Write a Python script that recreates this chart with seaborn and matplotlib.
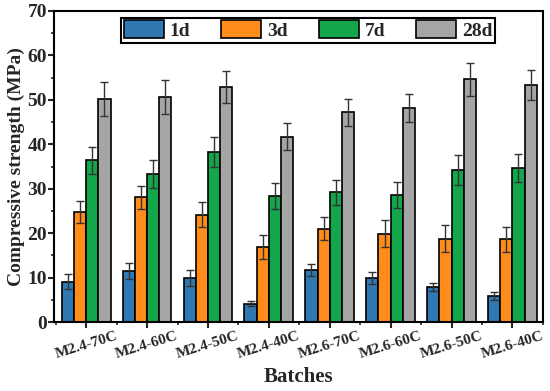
import pandas as pd
import numpy as np
import matplotlib
matplotlib.use("Agg")
import matplotlib.pyplot as plt
import seaborn as sns
from matplotlib.ticker import MultipleLocator, FixedLocator

batches = ['M2.4-70C', 'M2.4-60C', 'M2.4-50C', 'M2.4-40C',
           'M2.6-70C', 'M2.6-60C', 'M2.6-50C', 'M2.6-40C']
ages = ['1d', '3d', '7d', '28d']

s_1d = [9.1, 11.5, 9.9, 4.2, 11.7, 9.9, 7.9, 5.9]
s_3d = [24.8, 28.1, 24.2, 16.9, 21.0, 19.9, 18.8, 18.6]
s_7d = [36.4, 33.3, 38.3, 28.4, 29.2, 28.6, 34.2, 34.7]
s_28d = [50.2, 50.6, 52.8, 41.7, 47.2, 48.2, 54.6, 53.3]

e_1d = [1.7, 1.7, 1.8, 0.5, 1.3, 1.3, 0.9, 0.8]
e_3d = [2.5, 2.6, 2.9, 2.8, 2.6, 3.0, 3.1, 2.8]
e_7d = [3.1, 3.2, 3.3, 2.9, 2.8, 2.9, 3.4, 3.2]
e_28d = [3.9, 3.8, 3.6, 3.0, 3.0, 3.1, 3.8, 3.4]

colors = ['#2F78B2', '#FF8C1A', '#13A64B', '#A5A5A5']

df = pd.DataFrame({
    'Batch': batches * 4,
    'Age': [a for a in ages for _ in batches],
    'Strength': s_1d + s_3d + s_7d + s_28d,
    'Err': e_1d + e_3d + e_7d + e_28d,
})

sns.set_style('ticks')
plt.rcParams['font.family'] = ['Liberation Serif', 'DejaVu Serif']
plt.rcParams['font.weight'] = 'bold'

fig = plt.figure(figsize=(5.5, 3.91), dpi=100)
ax = fig.add_axes([0.098, 0.176, 0.889, 0.796])

sns.barplot(data=df, x='Batch', y='Strength', hue='Age', order=batches,
            hue_order=ages, palette=colors, errorbar=None, width=0.8,
            edgecolor='black', linewidth=1.2, saturation=1, ax=ax)

# error bars at the centres of the drawn bars
for cont, age in zip(ax.containers, ages):
    sub = df[df['Age'] == age].set_index('Batch').loc[batches]
    xs = [p.get_x() + p.get_width() / 2 for p in cont.patches]
    ax.errorbar(xs, sub['Strength'], yerr=sub['Err'], fmt='none',
                ecolor='#333333', elinewidth=1.0, capsize=3, capthick=1.0)

ax.set_ylim(0, 70)
ax.set_xlim(-0.53, 7.5)
ax.yaxis.set_major_locator(MultipleLocator(10))
ax.yaxis.set_minor_locator(MultipleLocator(5))
ax.xaxis.set_minor_locator(FixedLocator(np.arange(-0.5, 8, 1)))
ax.tick_params(axis='both', which='major', direction='out', length=4, width=1.5)
ax.tick_params(axis='both', which='minor', direction='out', length=2.5, width=1.2)
ax.tick_params(axis='y', labelsize=14, pad=1)
ax.tick_params(axis='x', labelsize=11, pad=1)
for lab in ax.get_xticklabels():
    lab.set_rotation(17)
    lab.set_fontweight('bold')
for lab in ax.get_yticklabels():
    lab.set_fontweight('bold')
for sp in ax.spines.values():
    sp.set_visible(True)
    sp.set_linewidth(1.5)
    sp.set_color('black')

ax.set_xlabel('Batches', fontsize=15, fontweight='bold', labelpad=5)
ax.set_ylabel('Compressive strength (MPa)', fontsize=14, fontweight='bold', labelpad=2)

leg = ax.legend(loc='upper center', bbox_to_anchor=(0.52, 0.985), ncol=4,
                frameon=True, fancybox=False, edgecolor='black',
                handlelength=2.05, handleheight=1.0, columnspacing=1.6,
                handletextpad=0.3, borderpad=0.15, borderaxespad=0.1,
                prop={'size': 14, 'weight': 'bold'})
leg.get_frame().set_linewidth(1.5)
leg.get_frame().set_alpha(1)

fig.savefig('out.png', dpi=100)
